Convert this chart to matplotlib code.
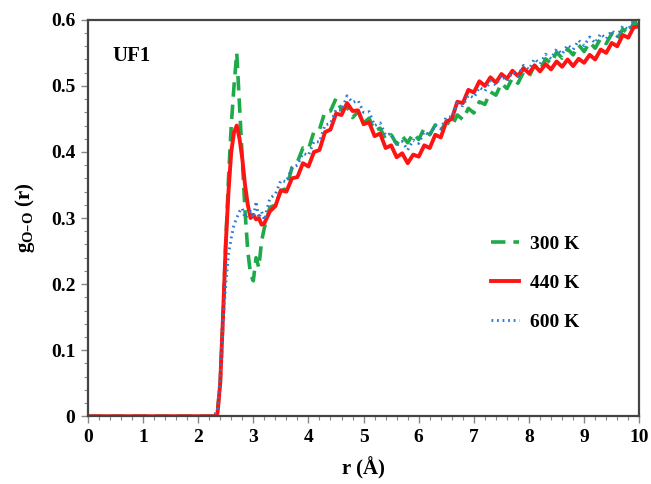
import numpy as np
import matplotlib
matplotlib.use("Agg")
import matplotlib.pyplot as plt

plt.rcParams['font.family'] = ['Liberation Serif', 'DejaVu Serif']
plt.rcParams['font.weight'] = 'bold'

# radial grid: zero region + first peak, then 0.1 step
r_low = [0.0, 2.25, 2.30, 2.35, 2.40, 2.45, 2.50, 2.55, 2.60, 2.65,
         2.70, 2.75, 2.80, 2.85, 2.90, 2.95, 3.00, 3.05, 3.10, 3.15]
r_high = list(np.round(np.arange(3.2, 10.01, 0.1), 1))

g300_low = [0, 0, 0, 0.005, 0.05, 0.15, 0.26, 0.36, 0.44, 0.50,
            0.55, 0.47, 0.39, 0.31, 0.25, 0.215, 0.205, 0.24, 0.225, 0.265]
g440_low = [0, 0, 0, 0.004, 0.05, 0.15, 0.26, 0.34, 0.40, 0.43,
            0.44, 0.42, 0.39, 0.35, 0.32, 0.30, 0.305, 0.298, 0.30, 0.29]
g600_low = [0, 0, 0.003, 0.01, 0.06, 0.14, 0.20, 0.245, 0.27, 0.29,
            0.30, 0.31, 0.315, 0.30, 0.305, 0.31, 0.30, 0.325, 0.30, 0.31]

g300_high = [0.285, 0.316, 0.32, 0.341, 0.345, 0.376, 0.385, 0.406, 0.404, 0.431,
             0.434, 0.461, 0.462, 0.481, 0.464, 0.468, 0.452, 0.461, 0.444, 0.451,
             0.432, 0.436, 0.419, 0.426, 0.412, 0.424, 0.414, 0.428, 0.419, 0.436,
             0.426, 0.441, 0.432, 0.446, 0.439, 0.456, 0.449, 0.466, 0.459, 0.476,
             0.472, 0.491, 0.486, 0.504, 0.496, 0.512, 0.504, 0.521, 0.514, 0.531,
             0.524, 0.541, 0.534, 0.551, 0.542, 0.556, 0.547, 0.562, 0.552, 0.566,
             0.557, 0.572, 0.564, 0.579, 0.57, 0.586, 0.579, 0.596, 0.592]
g440_high = [0.292, 0.31, 0.318, 0.342, 0.34, 0.36, 0.362, 0.383, 0.378, 0.40,
             0.403, 0.43, 0.434, 0.458, 0.456, 0.474, 0.462, 0.463, 0.442, 0.445,
             0.424, 0.428, 0.406, 0.41, 0.392, 0.398, 0.383, 0.396, 0.393, 0.41,
             0.406, 0.426, 0.422, 0.446, 0.45, 0.476, 0.474, 0.494, 0.49, 0.507,
             0.50, 0.513, 0.505, 0.518, 0.511, 0.523, 0.515, 0.527, 0.519, 0.531,
             0.522, 0.533, 0.525, 0.537, 0.529, 0.54, 0.53, 0.541, 0.535, 0.547,
             0.54, 0.555, 0.55, 0.565, 0.56, 0.577, 0.573, 0.589, 0.59]
g600_high = [0.297, 0.33, 0.336, 0.357, 0.355, 0.376, 0.38, 0.398, 0.395, 0.416,
             0.415, 0.441, 0.443, 0.464, 0.463, 0.485, 0.475, 0.478, 0.46, 0.461,
             0.44, 0.444, 0.425, 0.428, 0.41, 0.416, 0.403, 0.418, 0.413, 0.431,
             0.425, 0.441, 0.435, 0.453, 0.453, 0.474, 0.47, 0.486, 0.482, 0.498,
             0.492, 0.508, 0.501, 0.516, 0.507, 0.521, 0.515, 0.531, 0.525, 0.541,
             0.533, 0.548, 0.541, 0.556, 0.548, 0.562, 0.555, 0.569, 0.561, 0.574,
             0.565, 0.579, 0.571, 0.584, 0.575, 0.591, 0.585, 0.6, 0.598]

r = r_low + r_high
g300 = g300_low + g300_high
g440 = g440_low + g440_high
g600 = g600_low + g600_high

fig = plt.figure(figsize=(6.51, 4.84), dpi=100)
ax = fig.add_subplot(111)
fig.subplots_adjust(left=0.135, right=0.982, bottom=0.14, top=0.959)

ax.plot(r, g300, color='#1faa4a', lw=2.6, dashes=(4, 2.2), label='300 K')
ax.plot(r, g440, color='#ff1414', lw=2.8, label='440 K')
ax.plot(r, g600, color='#2b7bd0', lw=2.1, linestyle=(0, (0.6, 1.3)), label='600 K')

ax.set_xlim(0, 10)
ax.set_ylim(0, 0.6)
ax.set_xticks(range(0, 11))
ax.set_xticks(np.arange(0, 10.01, 0.2), minor=True)
ax.set_yticks([0, 0.1, 0.2, 0.3, 0.4, 0.5, 0.6])
ax.set_yticklabels(['0', '0.1', '0.2', '0.3', '0.4', '0.5', '0.6'])
ax.set_yticks(np.arange(0, 0.601, 0.02), minor=True)
ax.tick_params(which='major', direction='out', length=5, width=1, color='#888888',
               labelsize=14, pad=4)
ax.tick_params(which='minor', direction='out', length=3, width=0.8, color='#888888')
for s in ax.spines.values():
    s.set_color('#444444')
    s.set_linewidth(1.6)

ax.set_xlabel('r (Å)', fontsize=15, fontweight='bold', labelpad=8)
ax.set_ylabel('$\\mathregular{g_{O\u2013O}}$ (r)', fontsize=15, fontweight='bold', labelpad=10)
ax.text(0.044, 0.91, 'UF1', transform=ax.transAxes, fontsize=15, fontweight='bold',
        va='center', ha='left')

ax.legend(loc='center left', bbox_to_anchor=(0.70, 0.335), frameon=False,
          fontsize=14, handlelength=1.4, labelspacing=1.1, handletextpad=0.6)

fig.savefig('out.png', dpi=100)
